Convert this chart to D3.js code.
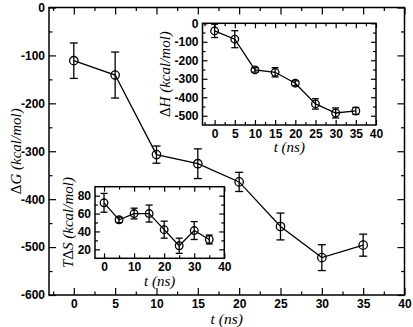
<!DOCTYPE html>
<html>
  <head>
    <script src="https://d3js.org/d3.v7.min.js"></script>
    <style>
      body { margin: 0; background: #fff; }
      .tick text { font-family: "Liberation Sans", Arial, sans-serif; font-weight: bold; font-size: 12px; }
      .ttl { font-family: "Liberation Serif", "Times New Roman", serif; font-style: italic; font-size: 15px; }
    </style>
  </head>
  <body>
    <svg width="413" height="327"></svg>
    <script>
      const t = [0, 5, 10, 15, 20, 25, 30, 35];
      const dG = [-111, -141, -307, -326, -364, -457, -522, -496];
      const dGErr = [37, 48, 18, 31, 20, 28, 27, 23];
      const dH = [-41, -86, -252, -265, -324, -436, -485, -474];
      const dHErr = [36, 46, 12, 25, 13, 28, 27, 19];
      const TdS = [72, 53, 60, 60, 42, 24, 41, 31];
      const TdSErr = [10.5, 3, 6, 9.5, 9.5, 8.5, 10, 5];

      const mainXTicks = [0, 5, 10, 15, 20, 25, 30, 35, 40];
      const mainYTicks = [0, -100, -200, -300, -400, -500, -600];
      const hXTicks = [0, 5, 10, 15, 20, 25, 30, 35, 40];
      const hYTicks = [0, -100, -200, -300, -400, -500];
      const sXTicks = [0, 10, 20, 30, 40];
      const sYTicks = [20, 40, 60, 80];

      const svg = d3.select("svg");
      const fmt = d => String(d);

      function panel(o) {
        const g = svg.append("g");
        const x = d3.scaleLinear().domain(o.xd).range(o.xr);
        const y = d3.scaleLinear().domain(o.yd).range(o.yr);
        const [x0, x1] = o.xr, [y0, y1] = o.yr;

        g.append("rect")
          .attr("x", x0).attr("y", y0)
          .attr("width", x1 - x0).attr("height", y1 - y0)
          .attr("fill", "#fff");

        const axes = [
          [d3.axisBottom, `translate(0,${y1})`, x, o.xt, o.xm, true],
          [d3.axisTop, `translate(0,${y0})`, x, o.xt, o.xm, false],
          [d3.axisLeft, `translate(${x0},0)`, y, o.yt, o.ym, true],
          [d3.axisRight, `translate(${x1},0)`, y, o.yt, o.ym, false]
        ];
        axes.forEach(([ax, tr, sc, maj, mnr, lab]) => {
          const a = g.append("g").attr("transform", tr)
            .call(ax(sc).tickValues(maj).tickSizeInner(-o.big).tickSizeOuter(0)
              .tickPadding(4)
              .tickFormat(lab ? fmt : ""));
          a.select(".domain").remove();
          a.selectAll("line").attr("stroke", "#000").attr("stroke-width", 1.2);
          g.append("g").attr("transform", tr)
            .call(ax(sc).tickValues(mnr).tickSizeInner(-o.small).tickSizeOuter(0).tickFormat(""))
            .call(s => s.select(".domain").remove())
            .selectAll("line").attr("stroke", "#000").attr("stroke-width", 1.2);
        });

        g.append("rect")
          .attr("x", x0).attr("y", y0)
          .attr("width", x1 - x0).attr("height", y1 - y0)
          .attr("fill", "none").attr("stroke", "#000").attr("stroke-width", 1.5);

        const pts = o.t.map((d, i) => ({ t: d, v: o.v[i], e: o.e[i] }));
        g.append("path")
          .datum(pts)
          .attr("fill", "none").attr("stroke", "#000").attr("stroke-width", 1.3)
          .attr("d", d3.line().x(d => x(d.t)).y(d => y(d.v)));

        const eb = g.append("g").attr("stroke", "#000").attr("stroke-width", 1.3);
        pts.forEach(d => {
          const cx = x(d.t), ya = y(d.v + d.e), yb = y(d.v - d.e);
          eb.append("line").attr("x1", cx).attr("x2", cx).attr("y1", ya).attr("y2", yb);
          eb.append("line").attr("x1", cx - o.cap).attr("x2", cx + o.cap).attr("y1", ya).attr("y2", ya);
          eb.append("line").attr("x1", cx - o.cap).attr("x2", cx + o.cap).attr("y1", yb).attr("y2", yb);
        });

        g.selectAll("circle.pt").data(pts).join("circle")
          .attr("class", "pt")
          .attr("cx", d => x(d.t)).attr("cy", d => y(d.v))
          .attr("r", o.r)
          .attr("fill", "none").attr("stroke", "#000").attr("stroke-width", 1.3);

        const xt = g.append("text").attr("class", "ttl")
          .attr("x", (x0 + x1) / 2).attr("y", o.xty)
          .attr("text-anchor", "middle")
          .style("font-size", o.xfs + "px");
        xt.append("tspan").text("t");
        xt.append("tspan").style("font-style", "normal").text(" ");
        xt.append("tspan").text("(ns)");

        const yt = g.append("text").attr("class", "ttl")
          .attr("transform", `translate(${o.ytx},${(y0 + y1) / 2}) rotate(-90)`)
          .attr("text-anchor", "middle");
        o.ylab.forEach(([s, it]) => {
          yt.append("tspan").style("font-style", it ? "italic" : "normal").text(s);
        });
        return g;
      }

      panel({
        xd: [-3, 40], xr: [49, 404.5], yd: [0, -600], yr: [7.5, 295],
        xt: mainXTicks, xm: d3.range(-2.5, 40, 5),
        yt: mainYTicks, ym: d3.range(-50, -600, -100),
        big: 7, small: 3.5, r: 4.2, cap: 4,
        t: t, v: dG, e: dGErr,
        xty: 323.5, xfs: 15.5, ytx: 21,
        ylab: [["\u0394", false], ["G (kcal/mol)", true]]
      });

      panel({
        xd: [-3, 40], xr: [202.5, 376], yd: [0, -550], yr: [23.3, 125],
        xt: hXTicks, xm: d3.range(-2.5, 40, 5),
        yt: hYTicks, ym: d3.range(-50, -550, -100),
        big: 5, small: 3, r: 3.8, cap: 3.5,
        t: t, v: dH, e: dHErr,
        xty: 152, xfs: 15, ytx: 170,
        ylab: [["\u0394", false], ["H (kcal/mol)", true]]
      });

      panel({
        xd: [-3, 40], xr: [95, 224.3], yd: [90, 10], yr: [186.7, 258.3],
        xt: sXTicks, xm: [5, 15, 25, 35],
        yt: sYTicks, ym: [30, 50, 70],
        big: 5, small: 3, r: 3.8, cap: 3.5,
        t: t, v: TdS, e: TdSErr,
        xty: 285.5, xfs: 15, ytx: 73,
        ylab: [["T", true], ["\u0394", false], ["S (kcal/mol)", true]]
      });
    </script>
  </body>
</html>
